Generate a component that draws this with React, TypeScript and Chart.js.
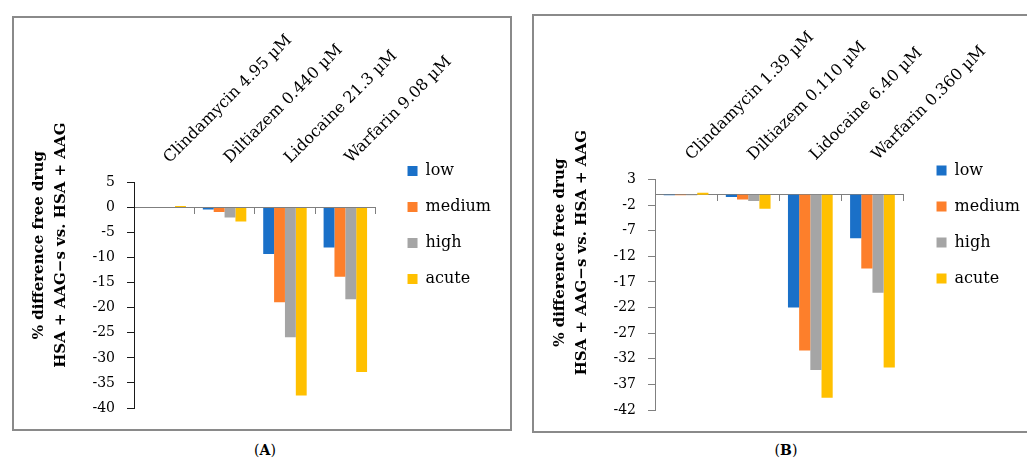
import React, { useEffect, useRef } from "react";
import { Chart, registerables } from "chart.js";

Chart.register(...registerables);

// ---------- data ----------
const seriesNames = ["low", "medium", "high", "acute"];
const seriesColors = ["#1A70C8", "#FD7F2B", "#A5A5A5", "#FFC000"];

const categoriesA = ["Clindamycin 4.95 µM", "Diltiazem 0.440 µM", "Lidocaine 21.3 µM", "Warfarin 9.08 µM"];
const lowA = [-0.1, -0.4, -9.3, -8.0];
const mediumA = [-0.1, -0.9, -18.9, -13.8];
const highA = [-0.1, -2.0, -25.9, -18.3];
const acuteA = [0.3, -2.8, -37.5, -32.8];
const yMinA = -40;
const yMaxA = 5;
const yStepA = 5;

const categoriesB = ["Clindamycin 1.39 µM", "Diltiazem 0.110 µM", "Lidocaine 6.40 µM", "Warfarin 0.360 µM"];
const lowB = [-0.1, -0.45, -22.0, -8.5];
const mediumB = [-0.1, -0.9, -30.4, -14.4];
const highB = [-0.1, -1.2, -34.2, -19.1];
const acuteB = [0.4, -2.7, -39.6, -33.7];
const yMinB = -42;
const yMaxB = 3;
const yStepB = 5;

const yTitleLines = ["% difference free drug", "HSA + AAG\u2212s vs. HSA + AAG"];

// ---------- styling ----------
const FONT = "'DejaVu Serif', serif";

const yTitlePlugin = {
  id: "yTitle",
  afterDraw(chart: any, _args: any, opts: any) {
    const { ctx, chartArea } = chart;
    ctx.save();
    ctx.font = `bold ${opts.size}px ${FONT}`;
    ctx.fillStyle = "#000";
    ctx.textAlign = "center";
    ctx.textBaseline = "middle";
    const cy = (chartArea.top + chartArea.bottom) / 2 - opts.shift;
    (opts.lines as string[]).forEach((line, i) => {
      ctx.save();
      ctx.translate(chartArea.left - opts.offsets[i], cy);
      ctx.rotate(-Math.PI / 2);
      ctx.fillText(line, 0, 0);
      ctx.restore();
    });
    ctx.restore();
  },
};

// moves the legend box after layout (keeps chart area where it is)
const legendShiftPlugin = {
  id: "legendShift",
  afterLayout(chart: any, _args: any, opts: any) {
    const lg = chart.legend;
    if (!lg) return;
    lg.left += opts.dx;
    lg.right += opts.dx;
    lg.top += opts.dy;
    lg.bottom += opts.dy;
  },
};

type PanelProps = {
  categories: string[];
  values: number[][];
  yMin: number;
  yMax: number;
  yStep: number;
  axisColor: string;
  width: number;
  height: number;
  padding: { left: number; right: number; top: number; bottom: number };
  yAxisWidth: number;
  legendDx: number;
  legendDy: number;
  titleShift: number;
};

function ChartPanel(p: PanelProps) {
  const ref = useRef<HTMLCanvasElement>(null);
  useEffect(() => {
    const chart = new Chart(ref.current as HTMLCanvasElement, {
      type: "bar",
      data: {
        labels: p.categories,
        datasets: seriesNames.map((name, i) => ({
          label: name,
          data: p.values[i],
          backgroundColor: seriesColors[i],
          borderWidth: 0,
          categoryPercentage: 0.72,
          barPercentage: 1,
          xAxisID: "x",
          yAxisID: "y",
        })),
      },
      options: {
        animation: false,
        responsive: false,
        layout: { padding: p.padding },
        plugins: {
          legend: {
            position: "right",
            align: "center",
            labels: {
              boxWidth: 10,
              boxHeight: 10,
              padding: 20,
              color: "#000",
              font: { family: FONT, size: 16 },
            },
          },
          tooltip: { enabled: false },
          yTitle: { lines: yTitleLines, offsets: [95, 73], shift: p.titleShift, size: 15 },
          legendShift: { dx: p.legendDx, dy: p.legendDy },
        } as any,
        scales: {
          x: {
            type: "category",
            axis: "x",
            position: "top",
            offset: true,
            grid: { display: false },
            border: { display: false },
            ticks: {
              autoSkip: false,
              minRotation: 45,
              maxRotation: 45,
              padding: 7,
              labelOffset: 16,
              color: "#000",
              font: { family: FONT, size: 16 },
            },
          },
          x2: {
            type: "category",
            axis: "x",
            position: { y: 0 },
            offset: true,
            z: 1,
            grid: {
              display: true,
              offset: true,
              drawOnChartArea: false,
              drawTicks: true,
              tickLength: 6,
              color: "#7f7f7f",
              lineWidth: 1,
            },
            border: { display: true, color: "#7f7f7f", width: 1 },
            ticks: { display: false },
          },
          y: {
            type: "linear",
            axis: "y",
            position: "left",
            min: p.yMin,
            max: p.yMax,
            afterFit: (s: any) => {
              s.width = p.yAxisWidth;
            },
            ticks: {
              stepSize: p.yStep,
              padding: 12,
              color: "#000",
              font: { family: FONT, size: 14 },
            },
            grid: {
              display: true,
              drawOnChartArea: false,
              drawTicks: true,
              tickLength: 7,
              color: p.axisColor,
            },
            border: { display: true, color: p.axisColor, width: 1 },
          },
        } as any,
      },
      plugins: [yTitlePlugin, legendShiftPlugin],
    } as any);
    return () => chart.destroy();
  }, []);
  return <canvas ref={ref} width={p.width} height={p.height} style={{ display: "block" }} />;
}

function Frame(props: { left: number; top: number; width: number; height: number; children: React.ReactNode }) {
  return (
    <div
      style={{
        position: "absolute",
        left: props.left,
        top: props.top,
        width: props.width,
        height: props.height,
        border: "2px solid #8a8a8a",
        boxSizing: "border-box",
        background: "#fff",
      }}
    >
      {props.children}
    </div>
  );
}

function Caption(props: { cx: number; top: number; letter: string }) {
  return (
    <div
      style={{
        position: "absolute",
        left: props.cx - 50,
        top: props.top,
        width: 100,
        textAlign: "center",
        fontFamily: FONT,
        fontSize: 14,
        color: "#000",
      }}
    >
      (<b>{props.letter}</b>)
    </div>
  );
}

export default function App() {
  return (
    <div
      style={{
        position: "fixed",
        left: 0,
        top: 0,
        width: 1027,
        height: 459,
        overflow: "hidden",
        background: "#fff",
      }}
    >
      <Frame left={12} top={16} width={500} height={415}>
        <ChartPanel
          categories={categoriesA}
          values={[lowA, mediumA, highA, acuteA]}
          yMin={yMinA}
          yMax={yMaxA}
          yStep={yStepA}
          axisColor="#1a1a1a"
          width={496}
          height={411}
          padding={{ left: 0, right: 21, top: 6, bottom: 21 }}
          yAxisWidth={120}
          legendDx={12}
          legendDy={9}
          titleShift={50}
        />
      </Frame>
      <Frame left={532} top={14} width={508} height={419}>
        <ChartPanel
          categories={categoriesB}
          values={[lowB, mediumB, highB, acuteB]}
          yMin={yMinB}
          yMax={yMaxB}
          yStep={yStepB}
          axisColor="#808080"
          width={504}
          height={415}
          padding={{ left: 0, right: 21, top: 5, bottom: 21 }}
          yAxisWidth={121}
          legendDx={13}
          legendDy={9}
          titleShift={42}
        />
      </Frame>
      <Caption cx={265} top={442} letter="A" />
      <Caption cx={786} top={442} letter="B" />
    </div>
  );
}
